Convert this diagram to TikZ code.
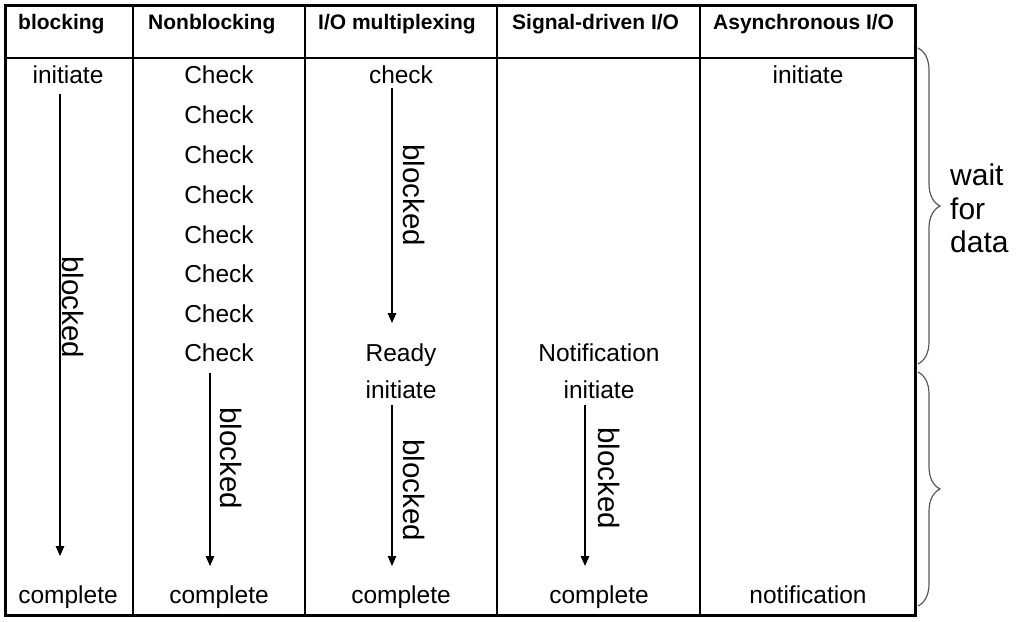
\documentclass[tikz,border=0pt]{standalone}
\usepackage{fontspec}
\setmainfont{Liberation Sans}
\usetikzlibrary{arrows.meta,decorations.pathreplacing}

\tikzset{
  head/.style={font=\fontsize{21}{25}\selectfont\bfseries, anchor=base west, inner sep=0pt},
  cell/.style={font=\fontsize{24.5}{28}\selectfont, anchor=base, inner sep=0pt},
  waitlbl/.style={font=\fontsize{29.5}{33}\selectfont, rotate=-90, inner sep=0pt},
  flow/.style={line width=1.3pt, -{Triangle[length=10pt,width=8.5pt]}, shorten <=4pt},
  frame/.style={line width=3pt},
  grid/.style={line width=1.4pt},
  bracestyle/.style={line width=1.2pt, gray!70!black,
    decorate, decoration={brace, amplitude=22pt, raise=0pt}},
  side/.style={font=\fontsize{30}{33.5}\selectfont, align=left, anchor=north west, inner sep=0pt}
}

\begin{document}
\begin{tikzpicture}[x=1pt,y=-1pt]
\useasboundingbox (0,0) rectangle (1016,621);

% table rules
\draw[grid] (5,58) -- (915,58);
\foreach \cx in {133,305,497,700} \draw[grid] (\cx,5) -- (\cx,615);
\draw[frame] (5,5) rectangle (915,615);

% column headings
\node[head] (h1) at (18,29) {blocking};
\node[head] (h2) at (148,29) {Nonblocking};
\node[head] (h3) at (318,29) {I/O multiplexing};
\node[head] (h4) at (512,29) {Signal-driven I/O};
\node[head] (h5) at (713,29) {Asynchronous I/O};

% blocking
\node[cell] (b1) at (68,83) {initiate};
\node[cell] (b2) at (68,603) {complete};
\coordinate (b1s) at (60,90);
\coordinate (b1e) at (60,556);
\draw[flow] (b1s) -- (b1e);
\node[waitlbl] (b1w) at (73,307) {blocked};

% nonblocking
\foreach \i/\yy in {1/83,2/123,3/163,4/203,5/243,6/282,7/322,8/361}
  \node[cell] (n\i) at (219,\yy) {Check};
\node[cell] (n9) at (219,603) {complete};
\coordinate (n8s) at (210,369);
\coordinate (n8e) at (210,566);
\draw[flow] (n8s) -- (n8e);
\node[waitlbl] (n8w) at (231,458) {blocked};

% I/O multiplexing
\node[cell] (m1) at (401,83) {check};
\node[cell] (m2) at (401,361) {Ready};
\node[cell] (m3) at (401,398) {initiate};
\node[cell] (m4) at (401,603) {complete};
\coordinate (m1s) at (392,84);
\coordinate (m1e) at (392,323);
\draw[flow] (m1s) -- (m1e);
\node[waitlbl] (m1w) at (414,195) {blocked};
\coordinate (m3s) at (392,401);
\coordinate (m3e) at (392,566);
\draw[flow] (m3s) -- (m3e);
\node[waitlbl] (m3w) at (414,490) {blocked};

% signal-driven I/O
\node[cell] (s1) at (599,361) {Notification};
\node[cell] (s2) at (599,398) {initiate};
\node[cell] (s3) at (599,603) {complete};
\coordinate (s2s) at (585,401);
\coordinate (s2e) at (585,566);
\draw[flow] (s2s) -- (s2e);
\node[waitlbl] (s2w) at (609,478) {blocked};

% asynchronous I/O
\node[cell] (a1) at (808,83) {initiate};
\node[cell] (a2) at (808,603) {notification};

% phase braces
\coordinate (br1t) at (918,48);
\coordinate (br1b) at (918,364);
\coordinate (br2t) at (918,372);
\coordinate (br2b) at (918,606);
\draw[bracestyle] (br1t) -- (br1b);
\draw[bracestyle] (br2t) -- (br2b);
\node[side] (wfd) at (950,164) {wait\\for\\data};
\end{tikzpicture}
\end{document}
